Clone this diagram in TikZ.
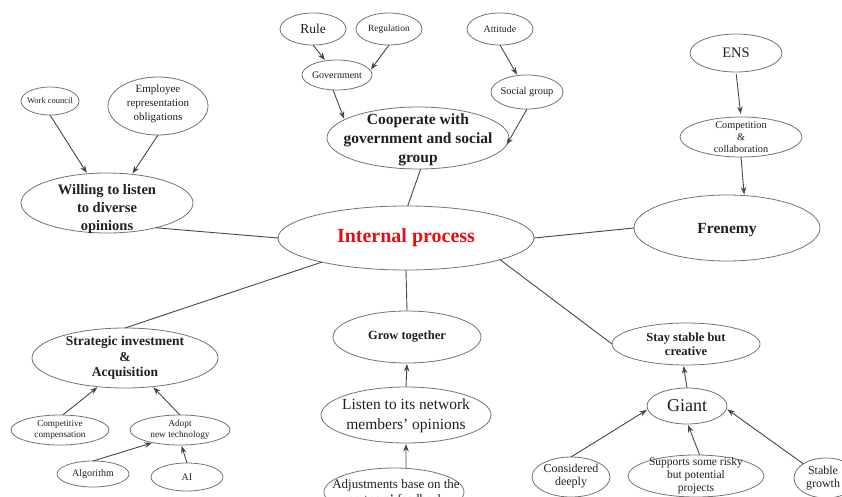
\documentclass[tikz,border=0pt]{standalone}
\usepackage{fontspec}
\setmainfont{Liberation Serif}
\usetikzlibrary{shapes.geometric,arrows.meta}
\definecolor{textdark}{gray}{0.12}
\definecolor{linegray}{gray}{0.28}
\definecolor{bordergray}{gray}{0.45}
\definecolor{hotred}{RGB}{228,16,16}
\newcommand{\fsz}[2]{\fontsize{#1}{#2}\selectfont}
\tikzset{
  bub/.style={ellipse, draw=bordergray, line width=0.8pt, inner sep=0pt, outer sep=0pt},
  lbl/.style={align=center, inner sep=0pt, text=textdark},
  link/.style={draw=linegray, line width=0.9pt},
  arr/.style={link, -{Stealth[length=7.5pt,width=5.5pt]}, shorten >=1pt},
}
\begin{document}
\begin{tikzpicture}[x=1pt,y=-1pt]
\useasboundingbox (0,0) rectangle (842,497);
\clip (0,0) rectangle (842,497);

% centre
\node[bub, minimum width=256pt, minimum height=64pt,
  label={[lbl,text=hotred,font=\fsz{20}{24}\bfseries]center:Internal process}] (central) at (406,238) {};

% top branch: cooperation
\node[bub, minimum width=182pt, minimum height=62pt,
  label={[lbl,yshift=-2pt,font=\fsz{15.5}{19}\bfseries]center:Cooperate with\\government and social\\group}] (coop) at (418,138) {};
\node[bub, minimum width=66pt, minimum height=32pt,
  label={[lbl,font=\fsz{13.5}{16}]center:Rule}] (rule) at (313,29) {};
\node[bub, minimum width=66pt, minimum height=32pt,
  label={[lbl,font=\fsz{9.5}{11}]center:Regulation}] (reg) at (389,29) {};
\node[bub, minimum width=70pt, minimum height=30pt,
  label={[lbl,font=\fsz{10}{12}]center:Government}] (gov) at (337,75) {};
\node[bub, minimum width=66pt, minimum height=32pt,
  label={[lbl,font=\fsz{10}{12}]center:Attitude}] (att) at (500,29) {};
\node[bub, minimum width=72pt, minimum height=34pt,
  label={[lbl,font=\fsz{10.4}{12}]center:Social group}] (soc) at (527,92) {};

% left branch: listening
\node[bub, minimum width=172pt, minimum height=60pt,
  label={[lbl,yshift=-6pt,font=\fsz{14.5}{18}\bfseries]center:Willing to listen\\to diverse\\opinions}] (will) at (107,203) {};
\node[bub, minimum width=58pt, minimum height=28pt,
  label={[lbl,font=\fsz{8.5}{10}]center:Work council}] (wc) at (50,101) {};
\node[bub, minimum width=100pt, minimum height=58pt,
  label={[lbl,yshift=2pt,font=\fsz{11}{13.7}]center:Employee\\representation\\obligations}] (emp) at (158,106) {};

% right branch: frenemy
\node[bub, minimum width=186pt, minimum height=66pt,
  label={[lbl,yshift=-2pt,font=\fsz{15.5}{18}\bfseries]center:Frenemy}] (fren) at (727,228) {};
\node[bub, minimum width=92pt, minimum height=38pt,
  label={[lbl,font=\fsz{14.5}{17}]center:ENS}] (ens) at (736,53) {};
\node[bub, minimum width=122pt, minimum height=40pt,
  label={[lbl,font=\fsz{10.3}{12}]center:Competition\\\&\\collaboration}] (comp) at (741,137) {};

% lower left branch: investment
\node[bub, minimum width=186pt, minimum height=60pt,
  label={[lbl,font=\fsz{13.5}{15.5}\bfseries]center:Strategic investment\\\&\\Acquisition}] (strat) at (125,358) {};
\node[bub, minimum width=98pt, minimum height=30pt,
  label={[lbl,font=\fsz{9.2}{11}]center:Competitive\\compensation}] (cc) at (60,430) {};
\node[bub, minimum width=100pt, minimum height=30pt,
  label={[lbl,font=\fsz{9.3}{11}]center:Adopt\\new technology}] (adopt) at (180,430) {};
\node[bub, minimum width=72pt, minimum height=26pt,
  label={[lbl,font=\fsz{10}{12}]center:Algorithm}] (algo) at (93,474) {};
\node[bub, minimum width=72pt, minimum height=28pt,
  label={[lbl,font=\fsz{10}{12}]center:AI}] (ai) at (187,477) {};

% bottom branch: growing together
\node[bub, minimum width=148pt, minimum height=52pt,
  label={[lbl,font=\fsz{12.5}{15}\bfseries]center:Grow together}] (grow) at (407,337) {};
\node[bub, minimum width=170pt, minimum height=56pt,
  label={[lbl,yshift=-1pt,font=\fsz{15.5}{19.5}]center:Listen to its network\\members' opinions}] (listen) at (406,415) {};
\node[bub, minimum width=140pt, minimum height=48pt,
  label={[lbl,xshift=2pt,yshift=-1pt,font=\fsz{13}{15.5}]center:Adjustments base on the\\partners' feedback}] (adj) at (394,492) {};

% lower right branch: stability
\node[bub, minimum width=148pt, minimum height=42pt,
  label={[lbl,font=\fsz{12.5}{14}\bfseries]center:Stay stable but\\creative}] (stay) at (686,344) {};
\node[bub, minimum width=80pt, minimum height=36pt,
  label={[lbl,font=\fsz{18}{20}]center:Giant}] (giant) at (687,406) {};
\node[bub, minimum width=78pt, minimum height=40pt,
  label={[lbl,yshift=1pt,font=\fsz{12}{13.5}]center:Considered\\deeply}] (cons) at (571,477) {};
\node[bub, minimum width=136pt, minimum height=42pt,
  label={[lbl,font=\fsz{11.5}{13}]center:Supports some risky\\but potential\\projects}] (sup) at (696,476) {};
\node[bub, minimum width=64pt, minimum height=40pt,
  label={[lbl,xshift=-3pt,font=\fsz{12}{12.5}]center:Stable\\growth}] (stab) at (826,478) {};

% spokes from the centre
\draw[link] (central.87) -- (coop.-85);
\draw[link] (central.west) -- (will.-27.5);
\draw[link] (central.east) -- (fren.west);
\draw[link] (central.196) -- (strat.north);
\draw[link] (central.south) -- (grow.north);
\draw[link] (central.-13) -- (stay.west);

% feeding arrows
\draw[arr] (rule.south) -- (gov.129);
\draw[arr] (reg.south) -- (gov.8);
\draw[arr] (gov.-105) -- (coop.166);
\draw[arr] (att.south) -- (soc.120);
\draw[arr] (soc.south) -- (coop.-5);

\draw[arr] (wc.south) -- (will.124);
\draw[arr] (emp.south) -- (will.49);

\draw[arr, shorten <=2pt, shorten >=3pt] (ens.south) -- (comp.north);
\draw[arr] (comp.south) -- (fren.62);

\draw[arr] (cc.80) -- (strat.-133);
\draw[arr] (adopt.north) -- (strat.-46);
\draw[arr] (algo.north) -- (adopt.-155);
\draw[arr] (ai.north) -- (adopt.-85);

\draw[arr] (listen.north) -- (grow.south);
\draw[arr] (adj.63) -- (listen.south);

\draw[arr] (giant.north) -- (stay.-97);
\draw[arr] (cons.north) -- (giant.185);
\draw[arr] (sup.80) -- (giant.-88);
\draw[arr] (stab.148) -- (giant.-4);
\end{tikzpicture}
\end{document}
